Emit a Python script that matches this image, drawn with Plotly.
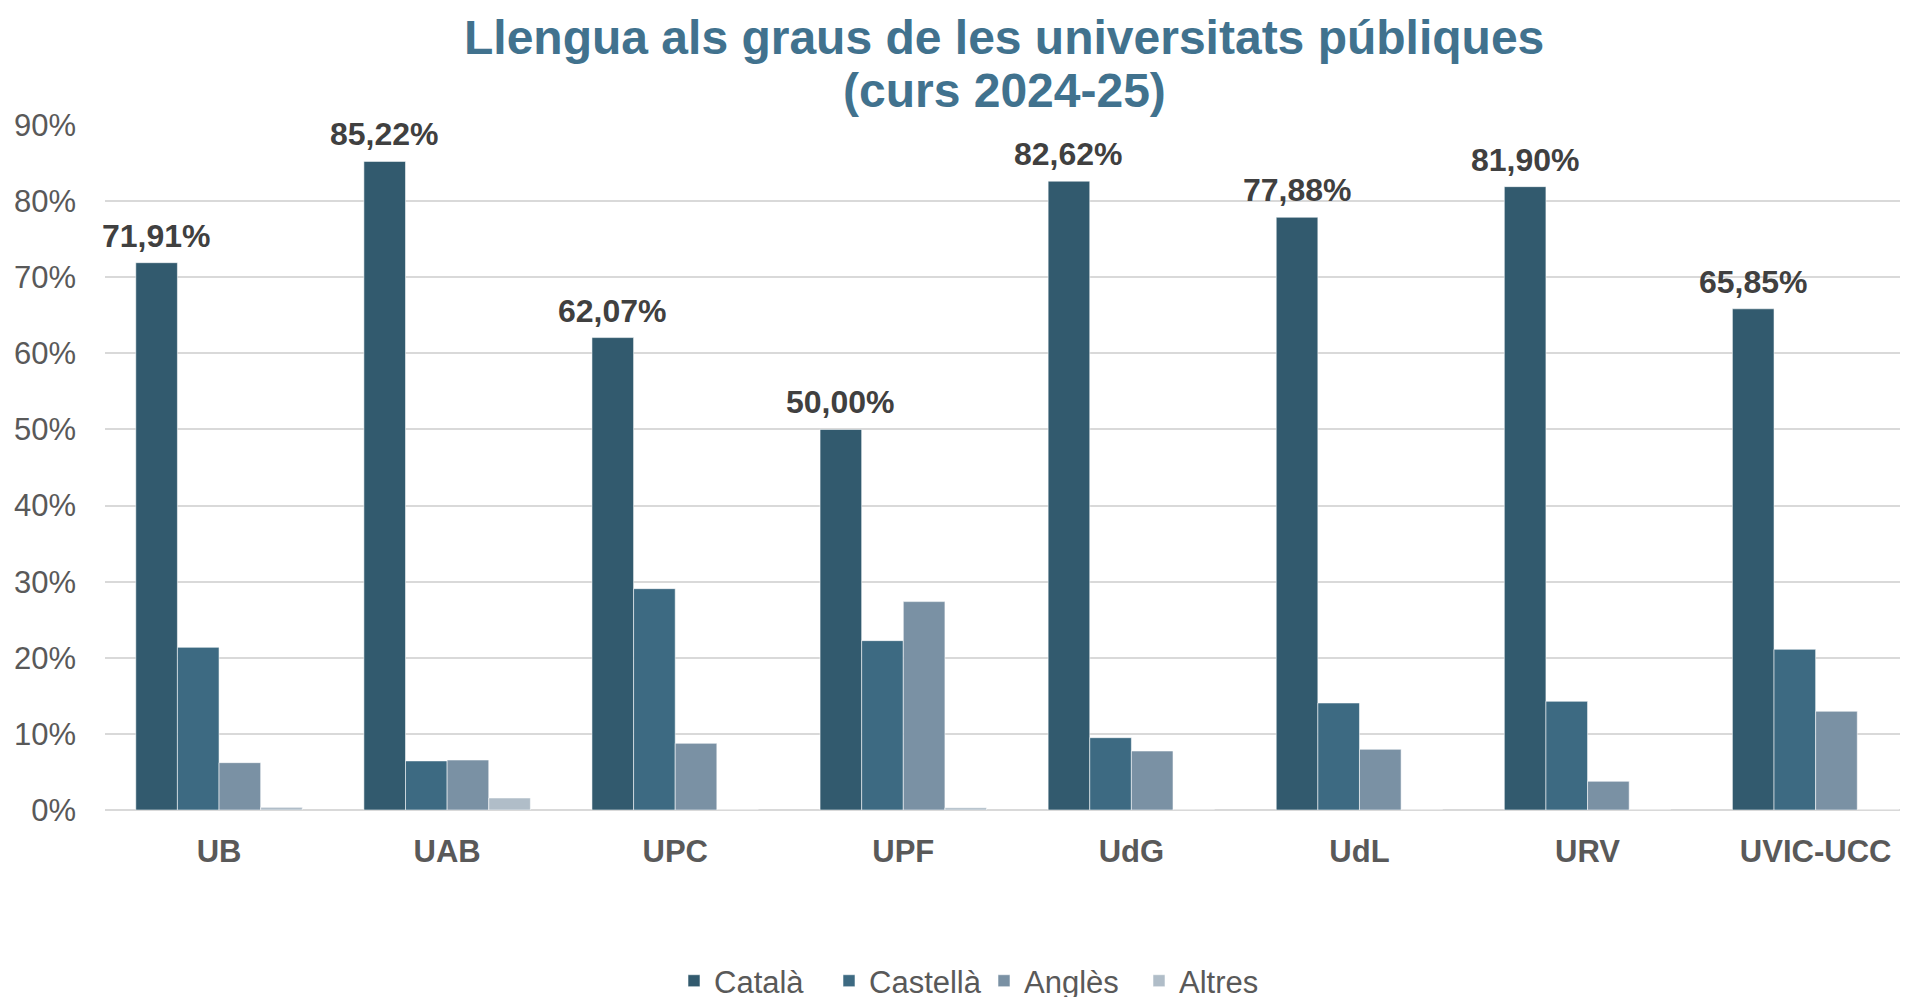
import plotly.graph_objects as go

universities = ["UB", "UAB", "UPC", "UPF", "UdG", "UdL", "URV", "UVIC-UCC"]
catala = [71.91, 85.22, 62.07, 50.00, 82.62, 77.88, 81.90, 65.85]
castella = [21.37, 6.45, 29.08, 22.25, 9.50, 14.06, 14.28, 21.11]
angles = [6.22, 6.57, 8.76, 27.38, 7.75, 7.97, 3.77, 12.97]
altres = [0.35, 1.58, 0.0, 0.30, 0.0, 0.0, 0.0, 0.0]
y_ticks = [0, 10, 20, 30, 40, 50, 60, 70, 80, 90]
title_lines = ["Llengua als graus de les universitats públiques", "(curs 2024-25)"]

series = [
    ("Català", catala, "#325a6e"),
    ("Castellà", castella, "#3d6a82"),
    ("Anglès", angles, "#7a91a4"),
    ("Altres", altres, "#b0bdc8"),
]

FONT = "Liberation Sans, Arial, sans-serif"
OFF = 8  # default page body margin
W, H = 1908, 997
L, T, B = 105 - OFF, 125.3 - OFF, 810 - OFF
PH = B - T
PW = W - L
BARGAP = 0.27

fig = go.Figure()
for name, vals, col in series:
    fig.add_trace(go.Bar(
        name=name, x=universities, y=vals,
        marker=dict(color=col, line=dict(color="rgba(255,255,255,0.55)", width=1)),
        hoverinfo="x+y",
    ))

# value labels above the Català bars (first bar of each group)
bar_w = (1 - BARGAP) / len(series)
for i, v in enumerate(catala):
    fig.add_annotation(
        x=i - 1.5 * bar_w, y=v, xref="x", yref="y",
        text=f"<b>{v:.2f}%</b>".replace(".", ","),
        showarrow=False, xanchor="center", yanchor="bottom", yshift=7,
        font=dict(family=FONT, size=32, color="#404040"),
    )

for line, yc in zip(title_lines, [38, 91]):
    fig.add_annotation(
        text=f"<b>{line}</b>", xref="paper", yref="paper",
        x=(1004 - OFF - L) / PW, y=(B - (yc - OFF)) / PH,
        xanchor="center", yanchor="middle", borderpad=0,
        showarrow=False, font=dict(family=FONT, size=48, color="#41728e"),
    )

fig.update_layout(
    width=W, height=H,
    paper_bgcolor="white", plot_bgcolor="white",
    barmode="group", bargap=BARGAP, bargroupgap=0,
    margin=dict(l=L, r=0, t=T, b=H - B, autoexpand=False),
    font=dict(family=FONT, color="#595959"),
    legend=dict(
        orientation="h", x=(984 - OFF - L) / PW, xanchor="center",
        y=(B - (981 - OFF)) / PH, yanchor="middle",
        font=dict(family=FONT, size=31, color="#595959"),
        traceorder="normal", entrywidth=110, entrywidthmode="pixels",
    ),
    showlegend=True,
)
fig.update_xaxes(
    range=[-0.5, 7.44], showgrid=False, showline=False, ticks="",
    tickfont=dict(family=FONT, size=31, color="#595959", weight="bold"),
    ticklabelstandoff=20, automargin=False,
)
fig.update_yaxes(
    range=[0, 90], tickvals=y_ticks, ticktext=[f"{v}%" for v in y_ticks],
    showgrid=True, gridcolor="#d9d9d9", gridwidth=2,
    zeroline=True, zerolinecolor="#d9d9d9", zerolinewidth=2,
    tickfont=dict(family=FONT, size=31, color="#595959"),
    ticklabelstandoff=28, automargin=False,
)
fig.write_html("out.html")
